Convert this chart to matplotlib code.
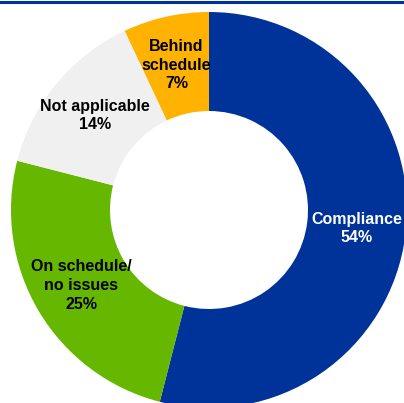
import numpy as np
import matplotlib
matplotlib.use("Agg")
import matplotlib.pyplot as plt

# slice data, clockwise from 12 o'clock
labels = ["Compliance", "On schedule/\nno issues", "Not applicable", "Behind\nschedule"]
shares = [54, 25, 14, 7]
colors = ["#003399", "#66B700", "#F0F0F0", "#FFB300"]
text_colors = ["white", "black", "black", "black"]

plt.rcParams["font.family"] = ["Liberation Sans", "DejaVu Sans"]

fig = plt.figure(figsize=(4.04, 4.03), dpi=100)
ax = fig.add_axes([0, 0, 1, 1])

wedges, _ = ax.pie(shares, colors=colors, startangle=90, counterclock=False,
                   radius=1.0, wedgeprops=dict(width=0.5, linewidth=0))

for w, lab, val, tc in zip(wedges, labels, shares, text_colors):
    mid = np.deg2rad((w.theta1 + w.theta2) / 2)
    r = 0.75
    ax.text(r * np.cos(mid), r * np.sin(mid), f"{lab}\n{val}%",
            ha="center", va="center", color=tc, fontsize=11.5,
            fontweight="bold", linespacing=1.3)

# pie is cropped on right and bottom in the original
ax.set_aspect("auto")
ax.set_xlim(-209 / 198, (404 - 209) / 198)
ax.set_ylim((210 - 403) / 198, 210 / 198)
ax.axis("off")

# thin blue rule across the top
fig.add_artist(plt.Line2D([0, 1], [0.996, 0.996], transform=fig.transFigure,
                          color="#003399", linewidth=2.2))

fig.savefig("out.png", dpi=100)
